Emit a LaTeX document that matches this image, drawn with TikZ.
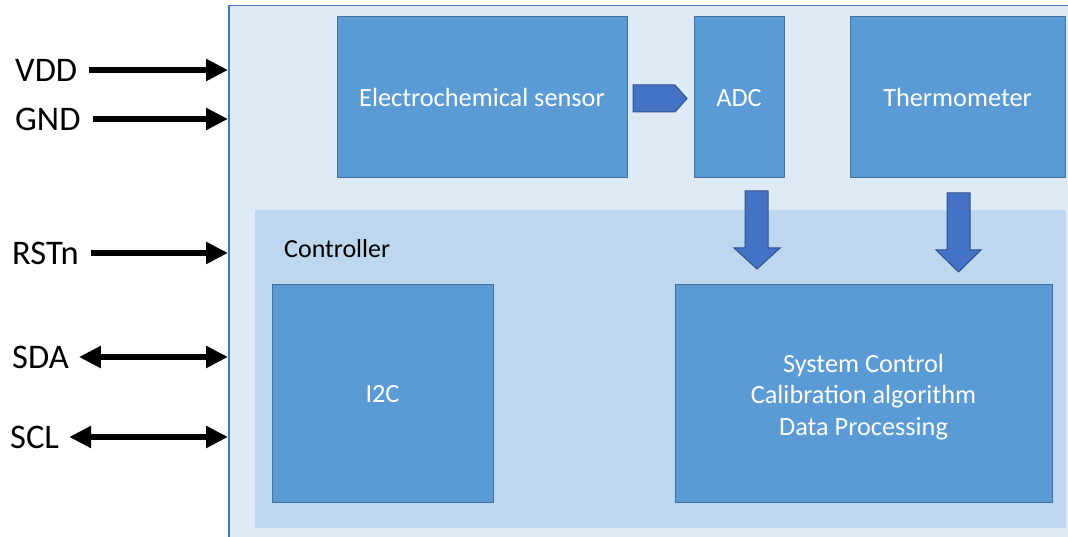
\documentclass[tikz,border=0pt]{standalone}
\usepackage{fontspec}
\setmainfont{Carlito}
\usetikzlibrary{arrows.meta, calc}

\definecolor{chipfill}{HTML}{DEEBF7}
\definecolor{chipline}{HTML}{4472C4}
\definecolor{ctrlfill}{HTML}{BDD7EE}
\definecolor{blockfill}{HTML}{5B9BD5}
\definecolor{blockline}{HTML}{41719C}
\definecolor{flowfill}{HTML}{4472C4}
\definecolor{flowline}{HTML}{2F528F}

\tikzset{
  block/.style={draw=blockline, fill=blockfill, line width=1pt, text=white,
    align=center, font=\fontsize{26.3}{31.5}\selectfont, inner sep=0pt},
  oneline/.style={text depth=-7pt},
  pinlabel/.style={anchor=west, font=\fontsize{34.5}{40}\selectfont, inner sep=0pt},
  pin/.style={line width=6pt, -{Triangle[length=22pt,width=21pt]}},
  bipin/.style={line width=6pt, {Triangle[length=22pt,width=21pt]}-{Triangle[length=22pt,width=21pt]}},
  flow/.style={draw=flowline, fill=flowfill, line width=1pt},
}

\begin{document}
\begin{tikzpicture}[x=1pt, y=-1pt]
  \useasboundingbox (0,0) rectangle (1068,537);

  % chip outline and controller area
  \node[draw=chipline, fill=chipfill, line width=1.5pt, anchor=north west,
        minimum width=860pt, minimum height=560pt] (chip) at (228,5) {};
  \node[fill=ctrlfill, anchor=north west, minimum width=811pt,
        minimum height=318pt] (ctrl) at (255,210) {};
  \node[anchor=west, font=\fontsize{26}{30}\selectfont, inner sep=0pt]
        (ctrllabel) at (284,249) {Controller};

  % blocks
  \node[block, oneline, minimum width=290pt, minimum height=161pt] (sensor) at (482,97.5) {Electrochemical sensor};
  \node[block, oneline, minimum width=90pt, minimum height=161pt] (adc) at (739,97.5) {ADC};
  \node[block, oneline, minimum width=215pt, minimum height=161pt] (thermo) at (957.5,97.5) {Thermometer};
  \node[block, oneline, minimum width=221pt, minimum height=217pt] (i2c) at (382.5,393.5) {I2C};
  \node[block, text height=88pt, minimum width=377pt, minimum height=217pt] (sys) at (863.5,393.5)
        {System Control\\Calibration algorithm\\Data Processing};

  % block arrows
  \draw[flow] (633,85) -- (675,85) -- (687,98.5) -- (675,112) -- (633,112) -- cycle;
  \draw[flow] (745,191) -- (768,191) -- (768,248) -- (780,248) -- (757,269)
              -- (734,248) -- (745,248) -- cycle;
  \draw[flow] (947,193) -- (970,193) -- (970,250) -- (981,250) -- (958.5,272)
              -- (936,250) -- (947,250) -- cycle;

  % pins
  \node[pinlabel] (vdd) at (15,70) {VDD};
  \node[pinlabel] (gnd) at (15,119) {GND};
  \node[pinlabel] (rstn) at (12,253) {RSTn};
  \node[pinlabel] (sda) at (12,357) {SDA};
  \node[pinlabel] (scl) at (10,437) {SCL};

  \draw[pin] ($(vdd.east)+(12,0)$) -- (vdd.east -| chip.west);
  \draw[pin] ($(gnd.east)+(12,0)$) -- (gnd.east -| chip.west);
  \draw[pin] ($(rstn.east)+(12,0)$) -- (rstn.east -| chip.west);
  \draw[bipin] ($(sda.east)+(10,0)$) -- (sda.east -| chip.west);
  \draw[bipin] ($(scl.east)+(10,0)$) -- (scl.east -| chip.west);
\end{tikzpicture}
\end{document}
